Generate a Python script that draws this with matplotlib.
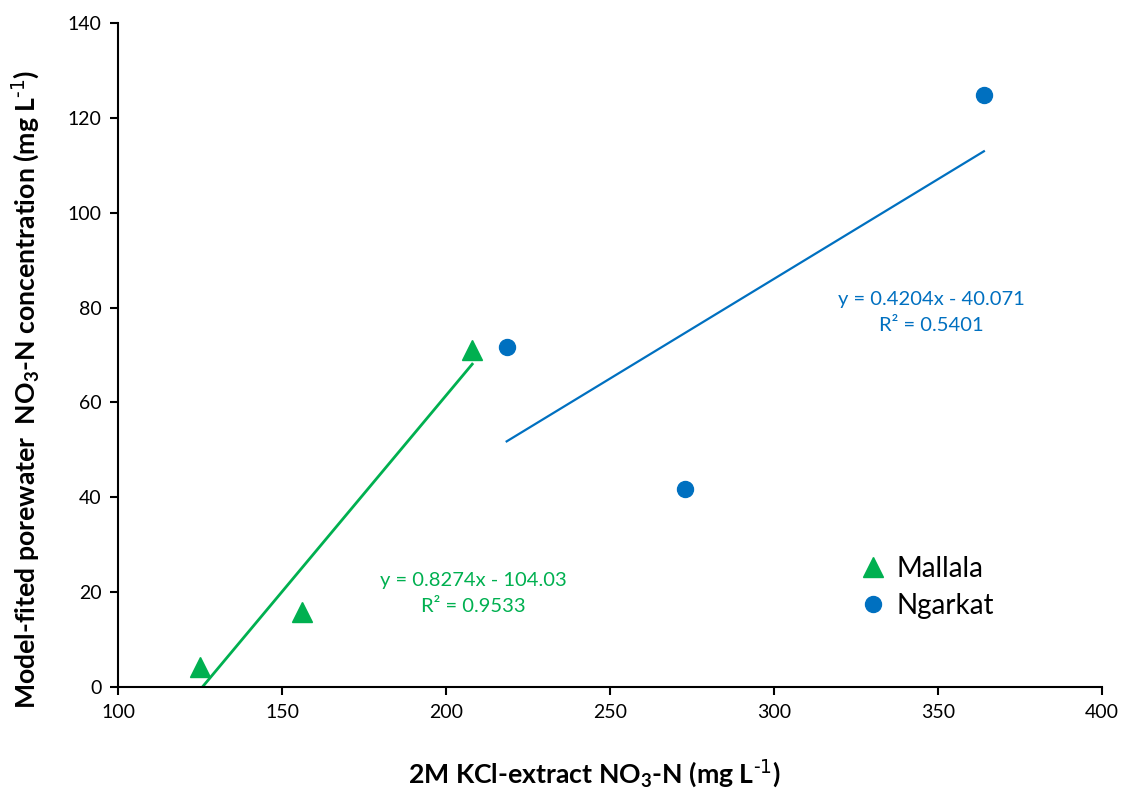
import matplotlib
matplotlib.use("Agg")
import matplotlib.pyplot as plt
import numpy as np

plt.rcParams['font.family'] = ['Lato', 'DejaVu Sans']
plt.rcParams['mathtext.default'] = 'regular'

mallala_x = [125.0, 156.0, 208.0]
mallala_y = [4.3, 15.8, 71.0]
ngarkat_x = [218.5, 273.0, 364.0]
ngarkat_y = [71.7, 41.7, 124.8]

mallala_fit = (0.8274, -104.03)
ngarkat_fit = (0.4204, -40.071)
mallala_eq = "y = 0.8274x - 104.03\nR² = 0.9533"
ngarkat_eq = "y = 0.4204x - 40.071\nR² = 0.5401"

green = '#00B050'
blue = '#0070C0'

fig = plt.figure(figsize=(11.27, 8.0), dpi=100)
ax = fig.add_axes([0.1047, 0.14125, 0.8731, 0.83])

# trendlines
xm = np.array([min(mallala_x), max(mallala_x)])
ax.plot(xm, mallala_fit[0] * xm + mallala_fit[1], color=green, lw=2, zorder=2)
xn = np.array([min(ngarkat_x), max(ngarkat_x)])
ax.plot(xn, ngarkat_fit[0] * xn + ngarkat_fit[1], color=blue, lw=1.6, zorder=2)

ax.plot(mallala_x, mallala_y, linestyle='none', marker='^', ms=14, color=green,
        label='Mallala', zorder=3)
ax.plot(ngarkat_x, ngarkat_y, linestyle='none', marker='o', ms=11.5, color=blue,
        label='Ngarkat', zorder=3)

ax.text(208.2, 19.8, mallala_eq, color=green, fontsize=14.5, ha='center', va='center',
        multialignment='center', linespacing=1.65)
ax.text(347.9, 79.0, ngarkat_eq, color=blue, fontsize=14.5, ha='center', va='center',
        multialignment='center', linespacing=1.65)

ax.set_xlim(100, 400)
ax.set_ylim(0, 140)
ax.set_xticks(np.arange(100, 401, 50))
ax.set_yticks(np.arange(0, 141, 20))
for s in ['top', 'right']:
    ax.spines[s].set_visible(False)
for s in ['left', 'bottom']:
    ax.spines[s].set_linewidth(1.5)
ax.tick_params(axis='both', direction='out', length=6, width=1.5, labelsize=14, pad=6)

ax.set_xlabel(r'2M KCl-extract NO$_3$-N (mg L$^{\text{-1}}$)', fontsize=19.2,
              fontweight='bold')
ax.set_ylabel(r'Model-fited porewater  NO$_3$-N concentration (mg L$^{\text{-1}}$)',
              fontsize=19.2, fontweight='bold')
ax.xaxis.set_label_coords(0.4837, -0.108)
ax.yaxis.set_label_coords(-0.077, 0.449)

leg = ax.legend(loc='upper left', bbox_to_anchor=(0.753, 0.198), frameon=False,
                fontsize=20, handletextpad=0.35, labelspacing=0.42, handlelength=1.0,
                borderpad=0, borderaxespad=0)

fig.savefig('out.png', dpi=100)
